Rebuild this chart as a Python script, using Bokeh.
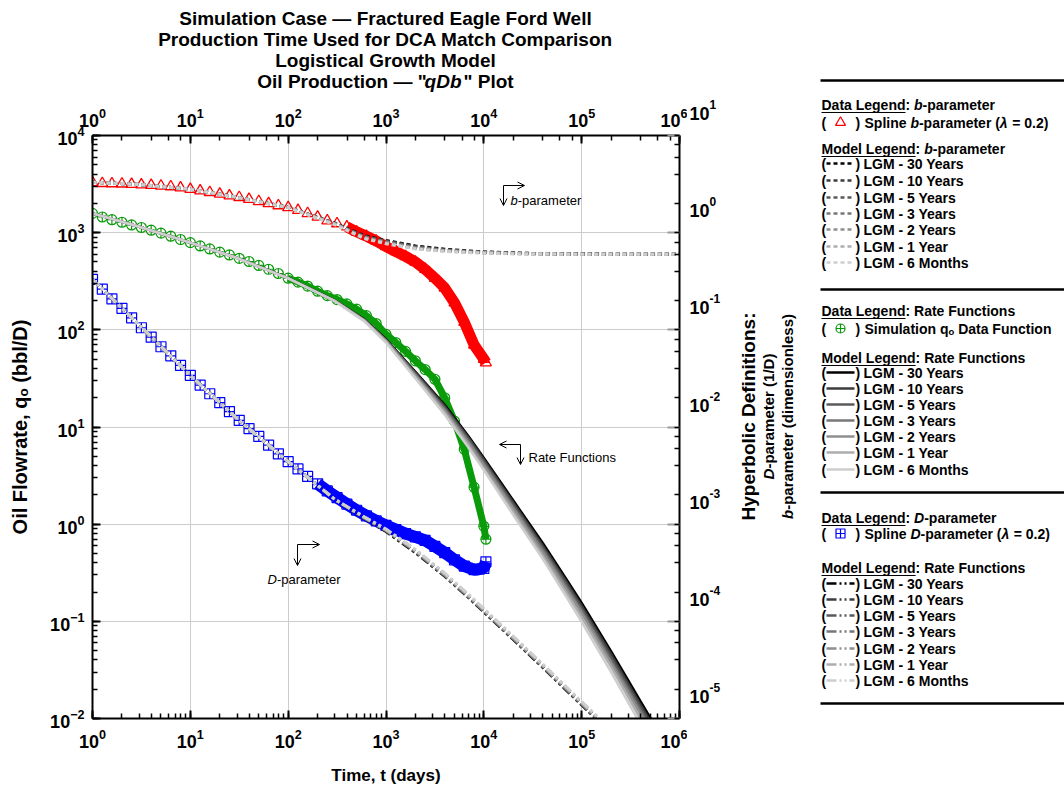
import math
from bokeh.plotting import figure
from bokeh.layouts import row, column
from bokeh.models import (Range1d, LogAxis, LinearScale, LogScale, Label, Arrow, OpenHead,
                          CustomJSTickFormatter)
from bokeh.core.properties import value
from bokeh.embed import file_html
from bokeh.resources import INLINE

# ------------------------------------------------------------------ data
T_DATA = [1, 1.26, 1.58, 2, 2.51, 3.16, 3.98, 5.01, 6.31, 7.94,
          10, 12.6, 15.8, 20, 25.1, 31.6, 39.8, 50.1, 63.1, 79.4,
          100, 126, 158, 200, 251, 316, 398, 501, 631, 794,
          1000, 1259, 1585, 1995, 2512, 3162, 3981, 5012, 6310, 7943,
          10000, 10500]
Q_SIM = [1580, 1450, 1360, 1280, 1200, 1130, 1060, 990, 920, 850,
         790, 730, 680, 630, 590, 545, 505, 460, 420, 380,
         340, 310, 282, 250, 225, 205, 185, 163, 140, 116,
         90, 74, 60, 48, 39, 31, 20, 11.5, 5.9, 2.4,
         0.95, 0.70]
B_SPLINE = [3.29, 3.22, 3.20, 3.18, 3.15, 3.12, 3.08, 3.03, 2.98, 2.90,
            2.80, 2.70, 2.60, 2.50, 2.40, 2.31, 2.21, 2.10, 2.00, 1.90,
            1.82, 1.70, 1.58, 1.45, 1.33, 1.24, 1.15, 1.02, 0.92, 0.82,
            0.72, 0.64, 0.57, 0.50, 0.42, 0.34, 0.27, 0.19, 0.12, 0.070,
            0.050, 0.046]
D_SPLINE = [0.330, 0.262, 0.208, 0.166, 0.133, 0.105, 0.084, 0.067, 0.054, 0.043,
            0.034, 0.027, 0.022, 0.0178, 0.0144, 0.0117, 0.0096, 0.0080, 0.0065, 0.0053,
            0.0044, 0.0037, 0.0031, 0.0026, 0.0022, 0.00188, 0.00161, 0.00139, 0.00122, 0.00108,
            0.00097, 0.00088, 0.00080, 0.00074, 0.00068, 0.00059, 0.00051, 0.00043, 0.00037, 0.00034,
            0.00035, 0.00041]

T_MODEL = [1, 3, 10, 30, 100, 300, 600, 1000, 2000, 4000,
           7000, 10000, 20000, 40000, 70000, 100000, 200000, 400000, 700000, 1000000]
MODEL_NAMES = ["30 Years", "10 Years", "5 Years", "3 Years", "2 Years", "1 Year", "6 Months"]

RATE_30Y = [1580, 1150, 790, 550, 340, 200, 128, 80, 37, 16.8, 8.0, 4.8, 1.75, 0.64, 0.27, 0.155, 0.049, 0.0150, 0.0058, 0.0032]
RATE_10Y = [1580, 1150, 790, 550, 340, 200, 127, 79, 36.3, 16.3, 7.7, 4.6, 1.66, 0.60, 0.254, 0.144, 0.0456, 0.0138, 0.0053, 0.0029]
RATE_5Y = [1580, 1150, 790, 550, 340, 200, 127, 78, 35.2, 15.6, 7.4, 4.4, 1.58, 0.57, 0.238, 0.135, 0.042, 0.0128, 0.0049, 0.0027]
RATE_3Y = [1580, 1150, 790, 550, 340, 199, 126, 78, 34.4, 15.1, 7.0, 4.2, 1.49, 0.54, 0.224, 0.127, 0.039, 0.0119, 0.0045, 0.0025]
RATE_2Y = [1580, 1150, 790, 550, 340, 199, 125, 77, 33.7, 14.6, 6.8, 4.0, 1.44, 0.51, 0.213, 0.121, 0.037, 0.0111, 0.0042, 0.0023]
RATE_1Y = [1580, 1150, 790, 549, 339, 198, 124, 75, 32.6, 13.9, 6.4, 3.7, 1.33, 0.47, 0.194, 0.110, 0.034, 0.0099, 0.0037, 0.0020]
RATE_6M = [1580, 1150, 789, 548, 338, 197, 123, 74, 31.5, 13.3, 6.1, 3.6, 1.24, 0.44, 0.178, 0.099, 0.030, 0.0087, 0.0032, 0.0018]

B_30Y = [3.30, 3.13, 2.80, 2.32, 1.82, 1.25, 0.93, 0.83, 0.73, 0.675, 0.648, 0.635, 0.618, 0.608, 0.604, 0.602, 0.601, 0.600, 0.600, 0.600]
B_10Y = [3.30, 3.13, 2.80, 2.32, 1.82, 1.25, 0.92, 0.82, 0.72, 0.668, 0.643, 0.631, 0.616, 0.607, 0.603, 0.602, 0.601, 0.600, 0.600, 0.600]
B_5Y = [3.30, 3.13, 2.80, 2.32, 1.82, 1.24, 0.91, 0.81, 0.71, 0.661, 0.638, 0.628, 0.614, 0.606, 0.603, 0.601, 0.600, 0.600, 0.600, 0.600]
B_3Y = [3.30, 3.13, 2.80, 2.32, 1.82, 1.24, 0.90, 0.80, 0.70, 0.655, 0.634, 0.625, 0.612, 0.605, 0.602, 0.601, 0.600, 0.600, 0.600, 0.600]
B_2Y = [3.30, 3.13, 2.80, 2.32, 1.82, 1.23, 0.89, 0.79, 0.69, 0.650, 0.631, 0.622, 0.610, 0.604, 0.602, 0.601, 0.600, 0.600, 0.600, 0.600]
B_1Y = [3.30, 3.13, 2.80, 2.31, 1.81, 1.22, 0.88, 0.78, 0.685, 0.645, 0.628, 0.619, 0.608, 0.603, 0.601, 0.600, 0.600, 0.600, 0.600, 0.600]
B_6M = [3.30, 3.13, 2.80, 2.31, 1.81, 1.21, 0.87, 0.77, 0.68, 0.640, 0.625, 0.616, 0.606, 0.602, 0.601, 0.600, 0.600, 0.600, 0.600, 0.600]

D_30Y = [0.330, 0.112, 0.034, 0.0122, 0.0044, 0.0018, 0.00115, 0.00084, 0.00051, 0.00029, 0.000175, 0.000125, 0.000065, 0.0000336, 0.0000195, 0.0000138, 0.0000071, 0.0000036, 0.0000021, 0.0000014]
D_10Y = [0.330, 0.112, 0.034, 0.0122, 0.0044, 0.0018, 0.00115, 0.00085, 0.00052, 0.000293, 0.000177, 0.000126, 0.0000657, 0.000034, 0.0000197, 0.0000139, 0.0000072, 0.0000036, 0.0000021, 0.0000014]
D_5Y = [0.330, 0.112, 0.034, 0.0122, 0.0044, 0.0018, 0.00116, 0.00086, 0.00052, 0.000296, 0.000179, 0.000128, 0.0000663, 0.0000343, 0.0000199, 0.0000141, 0.0000072, 0.0000037, 0.0000021, 0.0000014]
D_3Y = [0.330, 0.112, 0.034, 0.0122, 0.0044, 0.0018, 0.00116, 0.00086, 0.00053, 0.000299, 0.000180, 0.000129, 0.000067, 0.0000346, 0.0000201, 0.0000142, 0.0000073, 0.0000037, 0.0000022, 0.0000014]
D_2Y = [0.330, 0.112, 0.034, 0.0122, 0.0044, 0.0018, 0.00117, 0.00087, 0.00053, 0.000302, 0.000182, 0.000130, 0.0000676, 0.000035, 0.0000203, 0.0000144, 0.0000074, 0.0000037, 0.0000022, 0.0000015]
D_1Y = [0.330, 0.112, 0.034, 0.0122, 0.0044, 0.0018, 0.00118, 0.00088, 0.00054, 0.000307, 0.000186, 0.000133, 0.0000689, 0.0000356, 0.0000207, 0.0000146, 0.0000075, 0.0000038, 0.0000022, 0.0000015]
D_6M = [0.330, 0.112, 0.034, 0.0122, 0.0044, 0.0018, 0.00119, 0.00089, 0.00055, 0.000313, 0.000189, 0.000135, 0.0000702, 0.0000363, 0.0000211, 0.0000149, 0.0000077, 0.0000039, 0.0000023, 0.0000015]

RATE_MODELS = [RATE_30Y, RATE_10Y, RATE_5Y, RATE_3Y, RATE_2Y, RATE_1Y, RATE_6M]
B_MODELS = [B_30Y, B_10Y, B_5Y, B_3Y, B_2Y, B_1Y, B_6M]
D_MODELS = [D_30Y, D_10Y, D_5Y, D_3Y, D_2Y, D_1Y, D_6M]

RIGHT_EXPONENTS = [1, 0, -1, -2, -3, -4, -5]
TITLE_LINES = ["Simulation Case \u2014 Fractured Eagle Ford Well",
               "Production Time Used for DCA Match Comparison",
               "Logistical Growth Model"]

# ------------------------------------------------------------------ style / geometry
FONT = "Liberation Sans"
RED, GREEN, BLUE = "#ff0000", "#0a9b0a", "#0000ff"
SHADES = ["#000000", "#3c3c3c", "#5a5a5a", "#777777", "#8f8f8f", "#adadad", "#cecece"]
PAGE_W, PAGE_H = 1064, 793
TITLE_H = 92            # title strip height
MAIN_W = 687            # main figure width; the side panel starts here
FL, FR, FT, FB = 92, 679, 135, 718   # frame edges, page pixels
SHIFT_PX = 25           # right tick labels sit this far above their ticks
DEC_PX = (FB - FT) / 6.0

BW = {' ': 278, '!': 333, '"': 474, '(': 333, ')': 333, '-': 333, '.': 278, '/': 278,
      ':': 333, '=': 584, 'A': 722, 'B': 722, 'C': 722, 'D': 722, 'E': 667, 'F': 611,
      'G': 778, 'H': 722, 'I': 278, 'L': 611, 'M': 833, 'P': 667, 'R': 722, 'S': 667,
      'T': 611, 'W': 944, 'Y': 667, 'a': 556, 'b': 611, 'c': 556, 'd': 611, 'e': 556,
      'f': 333, 'g': 611, 'h': 611, 'i': 278, 'l': 278, 'm': 889, 'n': 611, 'o': 611,
      'p': 611, 'q': 611, 'r': 389, 's': 556, 't': 333, 'u': 611, 'w': 778, 'y': 556,
      '\u03bb': 600, '\u2092': 400, '\u2014': 1000, '\u00b7': 278}
RW = {'b': 556, 'D': 722}


def width(s, size, table=BW):
    return sum(table.get(c, 556) for c in s) * size / 1000.0


# ------------------------------------------------------------------ main plot
p = figure(width=MAIN_W, height=PAGE_H - TITLE_H, x_axis_type="log", y_axis_type="log",
           x_range=Range1d(1, 1e6), y_range=Range1d(1e-2, 1e4),
           output_backend="svg", toolbar_location=None,
           min_border_left=FL, min_border_right=MAIN_W - FR,
           min_border_top=FT - TITLE_H, min_border_bottom=PAGE_H - FB)
p.background_fill_color = "white"
p.border_fill_color = "white"
p.outline_line_color = None
p.extra_x_ranges = {"px": Range1d(FL, FR)}
p.extra_x_scales = {"px": LinearScale()}
p.extra_y_ranges = {"right": Range1d(1e-5, 10), "py": Range1d(FB, FT)}
p.extra_y_scales = {"right": LogScale(), "py": LinearScale()}

for g in (p.xgrid[0], p.ygrid[0]):
    g.grid_line_color = "#cccccc"
    g.grid_line_width = 1


def style_axis(ax, standoff):
    ax.axis_line_width = 2
    ax.axis_line_color = "black"
    ax.major_tick_in = 8
    ax.major_tick_out = 0
    ax.major_tick_line_width = 2
    ax.minor_tick_in = 5
    ax.minor_tick_out = 0
    ax.minor_tick_line_width = 1.5
    ax.major_label_text_font = FONT
    ax.major_label_text_font_size = "18px"
    ax.major_label_text_font_style = "bold"
    ax.major_label_text_color = "black"
    ax.major_label_standoff = standoff
    ax.axis_label_text_font = FONT
    ax.axis_label_text_font_style = "bold"
    ax.axis_label_text_color = "black"


bottom = p.xaxis[0]
style_axis(bottom, 10)
bottom.axis_label = "Time, t (days)"
bottom.axis_label_text_font_size = "17px"
bottom.axis_label_standoff = 15

left = p.yaxis[0]
style_axis(left, 8)
left.axis_label = "Oil Flowrate, q\u2092 (bbl/D)"
left.axis_label_text_font_size = "20px"
left.axis_label_standoff = 16

top = LogAxis()
style_axis(top, 9)
p.add_layout(top, "above")

rtick = LogAxis(y_range_name="right", formatter=CustomJSTickFormatter(code="return ''"))
style_axis(rtick, 0)
rtick.major_label_text_font_size = "2px"
rtick.major_tick_in = 12
rtick.major_tick_line_color = "#9a9a9a"
p.add_layout(rtick, "right")

# dense late-time data (overlapping markers) shown as a thick band
p.line(T_DATA[26:], B_SPLINE[26:], line_color=RED, line_width=11, y_range_name="right")
p.line(T_DATA[20:], Q_SIM[20:], line_color=GREEN, line_width=7)
p.line(T_DATA[23:], D_SPLINE[23:], line_color=BLUE, line_width=12, y_range_name="right")

p.scatter(T_DATA, B_SPLINE, marker="triangle", size=11, line_color=RED, fill_color=None,
          line_width=1.3, y_range_name="right")
p.scatter(T_DATA, Q_SIM, marker="circle_cross", size=10, line_color=GREEN, fill_color=None,
          line_width=1.2)
p.scatter(T_DATA, D_SPLINE, marker="square_cross", size=10, line_color=BLUE, fill_color=None,
          line_width=1.2, y_range_name="right")

for i in range(7):
    p.line(T_MODEL, RATE_MODELS[i], line_color=SHADES[i], line_width=2.5)
for i in range(7):
    p.line(T_MODEL, B_MODELS[i], line_color=SHADES[i], line_width=3, line_dash="4 3",
           y_range_name="right")
for i in range(7):
    p.line(T_MODEL, D_MODELS[i], line_color=SHADES[i], line_width=3, line_dash="9 3 3 3 3 3",
           y_range_name="right")


def plab(x, y, text, size=13, style="normal"):
    p.add_layout(Label(x=x, y=y, x_range_name="px", y_range_name="py", text=text,
                       text_font=FONT, text_font_size=f"{size}px", text_font_style=style,
                       text_color="black", text_align="left", text_baseline="middle"))


def parrow(x0, y0, x1, y1):
    p.add_layout(Arrow(x_start=x0, y_start=y0, x_end=x1, y_end=y1,
                       end=OpenHead(size=7, line_width=1), line_width=1, line_color="black",
                       x_range_name="px", y_range_name="py"))


parrow(503, 185, 524, 185)
parrow(503, 185, 503, 205)
plab(510, 200, "b", style="italic")
plab(510 + width("b", 13, RW), 200, "-parameter")

parrow(520, 444, 499, 444)
parrow(520, 444, 520, 464)
plab(528, 457, "Rate Functions")

parrow(297, 544, 319, 544)
parrow(297, 544, 297, 565)
plab(267, 579, "D", style="italic")
plab(267 + width("D", 13, RW), 579, "-parameter")


# ------------------------------------------------------------------ helper figures (page-pixel coordinates)
def aux_fig(x0, x1, y0, y1, fx0=None, fx1=None):
    """Figure spanning page x0..x1, y0..y1 whose frame maps page pixels 1:1."""
    fx0 = x0 if fx0 is None else fx0
    fx1 = x1 if fx1 is None else fx1
    f = figure(width=x1 - x0, height=y1 - y0, x_range=Range1d(fx0, fx1),
               y_range=Range1d(y1, y0),
               min_border_left=fx0 - x0, min_border_right=x1 - fx1,
               min_border_top=0, min_border_bottom=0,
               toolbar_location=None, output_backend="svg",
               x_axis_location=None, y_axis_location=None)
    f.outline_line_color = None
    f.grid.visible = False
    f.background_fill_color = "white"
    f.border_fill_color = "white"
    return f


def tx(f, x, y, text, size=14, style="bold", color="black", align="left", angle=0.0):
    f.text(x=[x], y=[y], text=[text], text_font=value(FONT), text_font_size=value(f"{size}px"),
           text_font_style=value(style), text_color=value(color), text_align=value(align),
           text_baseline=value("middle"), angle=angle)


def runs(f, x, y, parts, size=14, vertical=False, gap=0.0):
    """Consecutive text pieces of mixed style; leading blanks become offsets."""
    for txt, style in parts:
        body = txt.lstrip(" ")
        lead = width(txt[:len(txt) - len(body)], size)
        if vertical:
            y -= lead
            tx(f, x, y, body, size, style, angle=math.pi / 2)
            y -= width(body, size) + gap
        else:
            x += lead
            tx(f, x, y, body, size, style)
            x += width(body, size) + gap
    return x


# title strip (frame aligned with the plot frame so that a column layout keeps it 1:1)
title_fig = aux_fig(0, MAIN_W, 0, TITLE_H, FL, FR)
for k, line in enumerate(TITLE_LINES):
    tx(title_fig, 385, 18 + 21 * k, line, size=19, align="center")
parts4 = [('Oil Production \u2014 "', "bold"), ("qDb", "bold italic"), ('" Plot', "bold")]
tot = sum(width(t, 19) for t, _ in parts4) + 4
runs(title_fig, 385 - tot / 2, 81, parts4, size=19, gap=2)

# side panel: right tick labels, right axis title and the legends
leg = aux_fig(MAIN_W, PAGE_W, 0, PAGE_H)
for e in RIGHT_EXPONENTS:
    ylab = FT + (1 - e) * DEC_PX - SHIFT_PX
    tx(leg, 689, ylab + 3, "10", size=18)
    tx(leg, 689 + width("10", 18), ylab - 6, str(e), size=12)
tx(leg, 748, 416, "Hyperbolic Definitions:", size=19, align="center", angle=math.pi / 2)
l2 = [("D", "bold italic"), ("-parameter (1/D)", "bold")]
runs(leg, 768, 416 + sum(width(t, 15) for t, _ in l2) / 2, l2, size=15, vertical=True)
l3 = [("b", "bold italic"), ("-parameter (dimensionless)", "bold")]
runs(leg, 787, 416 + sum(width(t, 15) for t, _ in l3) / 2, l3, size=15, vertical=True)

LX, SX, RX, TX = 821, 840, 855, 864
RULES_Y = [80, 289, 492, 703]
leg.segment(x0=[820] * 4, y0=RULES_Y, x1=[PAGE_W] * 4, y1=RULES_Y, line_color="black",
            line_width=2.5)

SECTIONS = [
    dict(head_y=104, head=[(":", "bold"), (" b", "bold italic"), ("-parameter", "bold")],
         sym_y=122, marker="triangle", msize=10, color=RED,
         sym_text=[("Spline", "bold"), (" b", "bold italic"), ("-parameter (", "bold"),
                   ("\u03bb", "bold italic"), (" = 0.2)", "bold")],
         model_y=148, model=[(":", "bold"), (" b", "bold italic"), ("-parameter", "bold")],
         rows=[163, 180, 197, 213, 229, 246, 262], dash="4 3"),
    dict(head_y=310, head=[(": Rate Functions", "bold")],
         sym_y=328, marker="circle_cross", msize=9, color=GREEN,
         sym_text=[("Simulation q\u2092 Data Function", "bold")],
         model_y=357, model=[(": Rate Functions", "bold")],
         rows=[372, 388, 404, 420, 436, 452, 469], dash="solid"),
    dict(head_y=517, head=[(":", "bold"), (" D", "bold italic"), ("-parameter", "bold")],
         sym_y=533, marker="square_cross", msize=9, color=BLUE,
         sym_text=[("Spline", "bold"), (" D", "bold italic"), ("-parameter (", "bold"),
                   ("\u03bb", "bold italic"), (" = 0.2)", "bold")],
         model_y=567, model=[(": Rate Functions", "bold")],
         rows=[583, 599, 615, 631, 648, 664, 680], dash="10 3 2 3 2 3"),
]
for s in SECTIONS:
    runs(leg, LX, s["head_y"], [("Data Legend", "bold")] + s["head"])
    leg.segment(x0=[LX], y0=[s["head_y"] + 8], x1=[LX + width("Data Legend", 14)],
                y1=[s["head_y"] + 8], line_color="black", line_width=1.2)
    tx(leg, LX, s["sym_y"], "(")
    leg.scatter([SX], [s["sym_y"]], marker=s["marker"], size=s["msize"], line_color=s["color"],
                fill_color=None, line_width=1.2)
    tx(leg, RX, s["sym_y"], ")")
    runs(leg, TX, s["sym_y"], s["sym_text"])
    runs(leg, LX, s["model_y"], [("Model Legend", "bold")] + s["model"])
    leg.segment(x0=[LX], y0=[s["model_y"] + 8], x1=[LX + width("Model Legend", 14)],
                y1=[s["model_y"] + 8], line_color="black", line_width=1.2)
    for i, ry in enumerate(s["rows"]):
        tx(leg, LX, ry, "(")
        leg.segment(x0=[LX + 5], y0=[ry], x1=[RX - 1], y1=[ry], line_color=SHADES[i],
                    line_width=2.5, line_dash=s["dash"])
        tx(leg, RX, ry, ")")
        tx(leg, TX - 1, ry, "LGM - " + MODEL_NAMES[i])

layout = row(column(title_fig, p), leg)
open("out.html", "w").write(file_html(layout, INLINE))
